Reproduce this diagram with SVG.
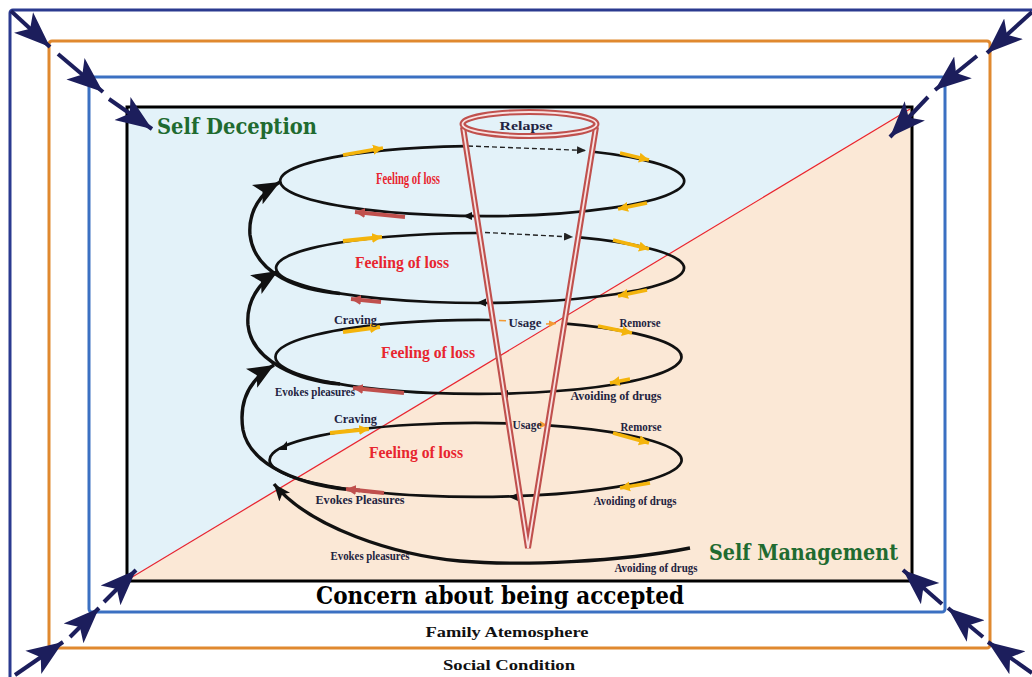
<svg xmlns="http://www.w3.org/2000/svg" width="1032" height="677" viewBox="0 0 1032 677">
<style>
.frame{fill:none;stroke-width:3}
.ell{fill:none;stroke:#111;stroke-width:2.7}
.arc{fill:none;stroke:#111;stroke-width:3.4}
.yel{stroke:#f4b40c;stroke-width:3.8;fill:none}
.red{stroke:#c0504d;stroke-width:3.8;fill:none}
.dash{stroke:#222;stroke-width:1.4;stroke-dasharray:5 3;fill:none}
.nav{stroke:#1c1e5c;stroke-width:4;fill:none}
.lbl{font-family:"Liberation Serif","DejaVu Serif",serif;font-weight:bold;font-size:12.5px;fill:#23233f}
.fol{font-family:"Liberation Serif","DejaVu Serif",serif;font-weight:bold;font-size:16px;fill:#e8252f}
.title{font-family:"DejaVu Serif","Liberation Serif",serif;font-weight:bold;font-size:22px;fill:#1f6b30}
.big{font-family:"DejaVu Serif","Liberation Serif",serif;font-weight:bold;font-size:25px;fill:#000}
.mid{font-family:"Liberation Serif","DejaVu Serif",serif;font-weight:bold;font-size:15.5px;fill:#111}
.cone{fill:none;stroke:#c0504d;stroke-width:6;stroke-linejoin:miter}
.coneIn{fill:none;stroke:#f8e2e2;stroke-width:1.8;stroke-linejoin:miter}
</style>
<defs>
<marker id="nh" markerUnits="userSpaceOnUse" markerWidth="38" markerHeight="30" viewBox="0 0 38 30" refX="36" refY="15" orient="auto">
<path d="M0,1 L36,15 L0,29 L9,15 Z" fill="#1c1e5c"/>
</marker>
<marker id="bh" markerUnits="userSpaceOnUse" markerWidth="28" markerHeight="24" viewBox="0 0 28 24" refX="26" refY="12" orient="auto">
<path d="M0,1 L26,12 L0,23 L6,12 Z" fill="#111"/>
</marker>
<marker id="bhs" markerUnits="userSpaceOnUse" markerWidth="18" markerHeight="16" viewBox="0 0 18 16" refX="17" refY="8" orient="auto">
<path d="M0,1 L17,8 L0,15 L4,8 Z" fill="#111"/>
</marker>
<marker id="dh" markerUnits="userSpaceOnUse" markerWidth="10" markerHeight="8" viewBox="0 0 10 8" refX="9" refY="4" orient="auto">
<path d="M0,0 L9,4 L0,8 Z" fill="#222"/>
</marker>
<marker id="yh" markerUnits="userSpaceOnUse" markerWidth="11" markerHeight="11" viewBox="0 0 11 11" refX="10" refY="5.5" orient="auto">
<path d="M0,0.5 L10,5.5 L0,10.5 Z" fill="#f4b40c"/>
</marker>
<marker id="rh" markerUnits="userSpaceOnUse" markerWidth="11" markerHeight="11" viewBox="0 0 11 11" refX="10" refY="5.5" orient="auto">
<path d="M0,0.5 L10,5.5 L0,10.5 Z" fill="#c0504d"/>
</marker>
<marker id="oh" markerUnits="userSpaceOnUse" markerWidth="8" markerHeight="8" viewBox="0 0 8 8" refX="7" refY="4" orient="auto">
<path d="M0,0.5 L7,4 L0,7.5 Z" fill="#f39a33"/>
</marker>
</defs>

<rect width="1032" height="677" fill="#fff"/>

<g id="frames">
<rect class="frame" x="10" y="10" width="1040" height="680" rx="3" stroke="#2b3a8f"/>
<rect class="frame" x="49" y="41" width="941" height="607" rx="3" stroke="#e0892f"/>
<rect class="frame" x="89" y="77" width="856" height="535" rx="3" stroke="#3b70c2"/>
</g>

<g id="panel">
<polygon points="127,107 912,107 127,581" fill="#e3f2f9"/>
<polygon points="912,107 912,581 127,581" fill="#fbe8d6"/>
<line x1="129" y1="579" x2="910" y2="109" stroke="#e8252f" stroke-width="1.2"/>
<rect x="127" y="107" width="785" height="474" fill="none" stroke="#000" stroke-width="3"/>
</g>

<g id="connectors">
<line class="nav" x1="11" y1="11" x2="50" y2="47" marker-end="url(#nh)"/>
<line class="nav" x1="58" y1="54" x2="103" y2="92" marker-end="url(#nh)"/>
<line class="nav" x1="109" y1="99" x2="152" y2="129" marker-end="url(#nh)"/>

<line class="nav" x1="1032" y1="12" x2="987" y2="53" marker-end="url(#nh)"/>
<line class="nav" x1="977" y1="56" x2="935" y2="90" marker-end="url(#nh)"/>
<line class="nav" x1="928" y1="97" x2="890" y2="137" marker-end="url(#nh)"/>

<line class="nav" x1="15" y1="675" x2="63" y2="642" marker-end="url(#nh)"/>
<line class="nav" x1="70" y1="637" x2="99" y2="608" marker-end="url(#nh)"/>
<line class="nav" x1="104" y1="602" x2="136" y2="570" marker-end="url(#nh)"/>

<line class="nav" x1="1032" y1="673" x2="988" y2="642" marker-end="url(#nh)"/>
<line class="nav" x1="983" y1="637" x2="948" y2="608" marker-end="url(#nh)"/>
<line class="nav" x1="942" y1="604" x2="903" y2="570" marker-end="url(#nh)"/>

<path class="arc" d="M340,293.5 C300,290 255,275 250,235 C248,210 262,192 280,182" marker-end="url(#bh)"/>
<path class="arc" d="M340,384 C300,381 252,362 248,325 C246,300 260,282 278,271" marker-end="url(#bh)"/>
<path class="arc" d="M360,490.5 C300,487 250,465 243,430 C238,398 252,378 274,365" marker-end="url(#bh)"/>
<path class="arc" stroke-width="2.8" d="M690,548 C620,562 520,566 460,561 C395,555 310,528 274,484" marker-end="url(#bhs)"/>
</g>

<g id="loop1">
<path class="ell" d="M591,151.5 A202,35 0 1 1 466,146.1"/>
<line class="dash" x1="468" y1="146" x2="586" y2="150.5" marker-end="url(#dh)"/>
<polygon points="463,216 472,212 472,220" fill="#111"/>
<line class="yel" x1="343" y1="155" x2="383" y2="148" marker-end="url(#yh)"/>
<line class="yel" x1="620" y1="153" x2="649" y2="160" marker-end="url(#yh)"/>
<line class="yel" x1="647" y1="203" x2="618" y2="209" marker-end="url(#yh)"/>
<line class="red" x1="405" y1="217" x2="355" y2="212" marker-end="url(#rh)"/>
<text class="fol" x="408" y="184" font-size="10.5" fill="#ea3a3f" text-anchor="middle" textLength="64" lengthAdjust="spacingAndGlyphs">Feeling of loss</text>
</g>

<g id="loop2">
<path class="ell" d="M577,237.2 A204,35 0 1 1 477,233"/>
<line class="dash" x1="485" y1="232.5" x2="573" y2="237" marker-end="url(#dh)"/>
<polygon points="477,302.5 486,298.5 486,306.5" fill="#111"/>
<line class="yel" x1="343" y1="241" x2="382" y2="237" marker-end="url(#yh)"/>
<line class="yel" x1="613" y1="240" x2="649" y2="249" marker-end="url(#yh)"/>
<line class="yel" x1="647" y1="290" x2="618" y2="296" marker-end="url(#yh)"/>
<line class="red" x1="381" y1="302" x2="351" y2="299" marker-end="url(#rh)"/>
<text class="fol" x="402" y="268" text-anchor="middle" textLength="94" lengthAdjust="spacingAndGlyphs">Feeling of loss</text>
</g>

<g id="loop3">
<path class="ell" d="M563,323.3 A203,37 0 1 1 490,320"/>
<line x1="499" y1="320.5" x2="506" y2="320.8" stroke="#f39a33" stroke-width="1.5"/>
<line x1="546" y1="324" x2="556" y2="323.5" stroke="#f39a33" stroke-width="1.5" marker-end="url(#oh)"/>
<polygon points="499,394 508,390 508,398" fill="#111"/>
<line class="yel" x1="343" y1="332" x2="380" y2="327" marker-end="url(#yh)"/>
<line class="yel" x1="598" y1="326" x2="632" y2="333" marker-end="url(#yh)"/>
<line class="yel" x1="630" y1="379" x2="610" y2="383" marker-end="url(#yh)"/>
<line class="red" x1="404" y1="393" x2="353" y2="388" marker-end="url(#rh)"/>
<text class="fol" x="428" y="358" text-anchor="middle" textLength="94" lengthAdjust="spacingAndGlyphs">Feeling of loss</text>
<text class="lbl" x="355.5" y="324" text-anchor="middle" textLength="43" lengthAdjust="spacingAndGlyphs">Craving</text>
<text class="lbl" x="525" y="327" text-anchor="middle" textLength="33" lengthAdjust="spacingAndGlyphs">Usage</text>
<text class="lbl" x="640" y="327" text-anchor="middle" textLength="41" lengthAdjust="spacingAndGlyphs">Remorse</text>
<text class="lbl" x="616" y="400" text-anchor="middle" textLength="91" lengthAdjust="spacingAndGlyphs">Avoiding of drugs</text>
<text class="lbl" x="315" y="396" text-anchor="middle" textLength="80" lengthAdjust="spacingAndGlyphs">Evokes pleasures</text>
</g>

<g id="loop4">
<path class="ell" d="M548,425.3 A206,37 0 1 1 508,423.4"/>
<line x1="538" y1="424.5" x2="547" y2="425" stroke="#f39a33" stroke-width="1.5" marker-end="url(#oh)"/>
<polygon points="509,497 518,493 518,501" fill="#111"/>
<polygon points="279,450 287,441 287,450" fill="#111"/>
<line class="yel" x1="330" y1="433" x2="369" y2="429" marker-end="url(#yh)"/>
<line class="yel" x1="613" y1="433" x2="649" y2="443" marker-end="url(#yh)"/>
<line class="yel" x1="650" y1="483" x2="620" y2="488" marker-end="url(#yh)"/>
<line class="red" x1="384" y1="493" x2="346" y2="489" marker-end="url(#rh)"/>
<text class="fol" x="416" y="458" text-anchor="middle" textLength="94" lengthAdjust="spacingAndGlyphs">Feeling of loss</text>
<text class="lbl" x="355.5" y="423" text-anchor="middle" textLength="43" lengthAdjust="spacingAndGlyphs">Craving</text>
<text class="lbl" x="527" y="429" text-anchor="middle" textLength="29" lengthAdjust="spacingAndGlyphs">Usage</text>
<text class="lbl" x="641" y="431" text-anchor="middle" textLength="41" lengthAdjust="spacingAndGlyphs">Remorse</text>
<text class="lbl" x="635" y="505" text-anchor="middle" textLength="83" lengthAdjust="spacingAndGlyphs">Avoiding of drugs</text>
<text class="lbl" x="360" y="504" text-anchor="middle" textLength="89" lengthAdjust="spacingAndGlyphs">Evokes Pleasures</text>
</g>

<g id="outer-loop">
<text class="lbl" x="370" y="560" font-size="11.5" text-anchor="middle" textLength="79" lengthAdjust="spacingAndGlyphs">Evokes pleasures</text>
<text class="lbl" x="656" y="572" font-size="11.5" text-anchor="middle" textLength="83" lengthAdjust="spacingAndGlyphs">Avoiding of drugs</text>
</g>

<g id="relapse-cone">
<path class="cone" d="M463,127 L528,548 L596,127"/>
<path class="coneIn" d="M463,127 L528,548 L596,127"/>
<ellipse class="cone" cx="529.5" cy="124" rx="67" ry="12"/>
<ellipse class="coneIn" cx="529.5" cy="124" rx="67" ry="12"/>
<text class="lbl" x="526" y="130" font-size="16" text-anchor="middle" textLength="53" lengthAdjust="spacingAndGlyphs">Relapse</text>
</g>

<g id="self-deception">
<text class="title" x="157" y="134" textLength="160" lengthAdjust="spacingAndGlyphs">Self Deception</text>
</g>
<g id="self-management">
<text class="title" x="709" y="560" textLength="189" lengthAdjust="spacingAndGlyphs">Self Management</text>
</g>
<g id="concern">
<text class="big" x="500" y="604" text-anchor="middle" textLength="368" lengthAdjust="spacingAndGlyphs">Concern about being accepted</text>
</g>
<g id="family">
<text class="mid" x="507" y="637" text-anchor="middle" textLength="163" lengthAdjust="spacingAndGlyphs">Family Atemosphere</text>
</g>
<g id="social">
<text class="mid" x="509" y="670" text-anchor="middle" textLength="132" lengthAdjust="spacingAndGlyphs">Social Condition</text>
</g>
</svg>
